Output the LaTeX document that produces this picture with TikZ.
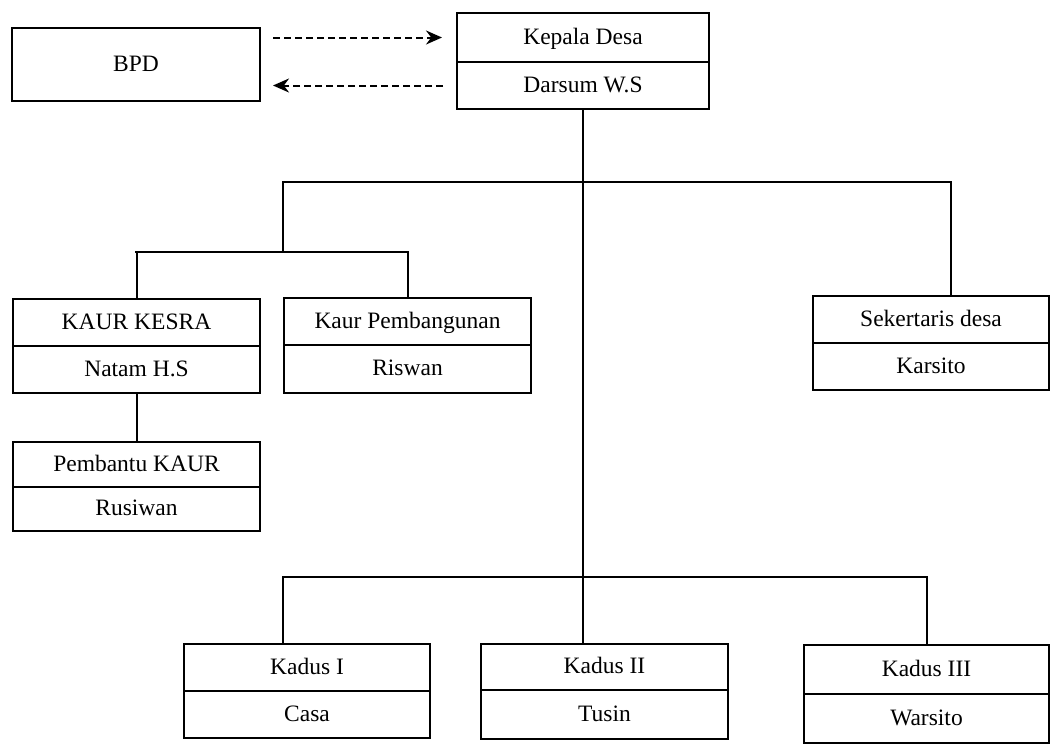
\documentclass[tikz,border=0pt]{standalone}
\usepackage{fontspec}
\setmainfont{Liberation Serif}
\usetikzlibrary{arrows.meta,calc}
\begin{document}
\begin{tikzpicture}[x=1pt,y=-1pt,
  part/.style={draw, line width=2pt, inner sep=0pt, anchor=north west,
               text height=16pt, text depth=2.5pt,
               font=\fontsize{23.5}{27}\selectfont},
  link/.style={line width=2pt, line cap=rect},
  dlink/.style={line width=2pt, dash pattern=on 7pt off 4pt,
                -{Stealth[length=16pt,width=14pt]}}]
\fill[white] (0,0) rectangle (1051,745);
\useasboundingbox (0,0) rectangle (1051,745);

% top level
\node[part, minimum width=248pt, minimum height=73pt] (bpd) at (11,27) {BPD};
\node[part, minimum width=252pt, minimum height=49pt] (kd)  at (456,12) {Kepala Desa};
\node[part, minimum width=252pt, minimum height=47pt] (kdn) at (456,61) {Darsum W.S};

% second level
\node[part, minimum width=247pt, minimum height=47pt] (ka)  at (12,298)  {KAUR KESRA};
\node[part, minimum width=247pt, minimum height=47pt] (kan) at (12,345)  {Natam H.S};
\node[part, minimum width=247pt, minimum height=47pt] (kp)  at (283,297) {Kaur Pembangunan};
\node[part, minimum width=247pt, minimum height=48pt] (kpn) at (283,344) {Riswan};
\node[part, minimum width=236pt, minimum height=47pt] (sa)  at (812,295) {Sekertaris desa};
\node[part, minimum width=236pt, minimum height=47pt] (san) at (812,342) {Karsito};

% helper
\node[part, minimum width=247pt, minimum height=45pt] (pa)  at (12,441) {Pembantu KAUR};
\node[part, minimum width=247pt, minimum height=44pt] (pan) at (12,486) {Rusiwan};

% kadus
\node[part, minimum width=246pt, minimum height=47pt] (k1a) at (183,643) {Kadus I};
\node[part, minimum width=246pt, minimum height=47pt] (k1b) at (183,690) {Casa};
\node[part, minimum width=247pt, minimum height=46pt] (k2a) at (480,643) {Kadus II};
\node[part, minimum width=247pt, minimum height=49pt] (k2b) at (480,689) {Tusin};
\node[part, minimum width=245pt, minimum height=49pt] (k3a) at (803,644) {Kadus III};
\node[part, minimum width=245pt, minimum height=49pt] (k3b) at (803,693) {Warsito};

% dashed relations BPD <-> Kepala Desa
\draw[dlink] ($(bpd.east |- kd.west)+(12,0)$) -- ($(kd.west)+(-14,0)$);
\draw[dlink] ($(kdn.west)+(-13,0)$) -- ($(bpd.east |- kdn.west)+(12,0)$);

% tree connectors
\coordinate (t1l) at (283,182);
\coordinate (t1r) at (951,182);
\coordinate (t2)  at (283,252);
\coordinate (b1)  at (283,577);
\coordinate (b3)  at (927,577);

\draw[link] (kdn.south) -- (kdn.south |- k2a.north);
\draw[link, line width=2.6pt] (t1l) -- (t1r);
\draw[link] (t1r) -- (t1r |- sa.north);
\draw[link] (t1l) -- (t2);
\draw[link, line width=2.4pt] (ka.north |- t2) -- (kp.north |- t2);
\draw[link] (ka.north |- t2) -- (ka.north);
\draw[link] (kp.north |- t2) -- (kp.north);
\draw[link] (kan.south) -- (pa.north);
\draw[link] (b1) -- (b3);
\draw[link] (b1) -- (b1 |- k1a.north);
\draw[link] (b3) -- (b3 |- k3a.north);
\end{tikzpicture}
\end{document}
